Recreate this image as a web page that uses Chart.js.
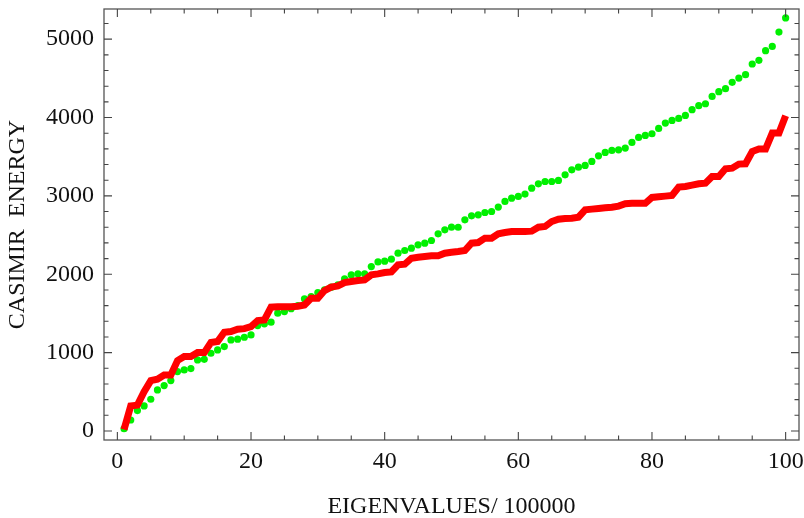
<!DOCTYPE html>
<html>
<head>
<meta charset="utf-8">
<script src="https://cdn.jsdelivr.net/npm/chart.js@4.4.1/dist/chart.umd.min.js"></script>
<style>
  html, body { margin: 0; padding: 0; background: #fff; }
  #chart { display: block; }
</style>
</head>
<body>
<canvas id="chart" width="804" height="518"></canvas>
<script>
// eigenvalue index 1..100
const eigenIndex = Array.from({ length: 100 }, (_, i) => i + 1);

// green dotted series
const greenValues = [
  30, 140, 260, 320, 405, 524, 579, 643, 758, 779,
  796, 907, 915, 992, 1034, 1077, 1162, 1171, 1196, 1226,
  1345, 1367, 1388, 1503, 1524, 1560, 1600, 1686, 1715, 1767,
  1801, 1835, 1865, 1941, 1992, 2005, 2005, 2098, 2158, 2167,
  2193, 2269, 2303, 2333, 2375, 2397, 2431, 2516, 2567, 2601,
  2600, 2695, 2746, 2758, 2788, 2801, 2857, 2929, 2971, 2993,
  3023, 3099, 3154, 3184, 3184, 3197, 3269, 3333, 3367, 3389,
  3440, 3512, 3555, 3580, 3588, 3610, 3682, 3746, 3772, 3793,
  3861, 3929, 3963, 3989, 4027, 4100, 4151, 4176, 4270, 4330,
  4368, 4449, 4504, 4547, 4683, 4730, 4853, 4908, 5090, 5271,
];

// red thick line series
const redValues = [
  20, 319, 330, 502, 643, 660, 715, 715, 898, 949,
  949, 1000, 1000, 1128, 1141, 1260, 1269, 1298, 1306, 1332,
  1409, 1417, 1580, 1585, 1585, 1585, 1592, 1609, 1694, 1694,
  1792, 1835, 1852, 1894, 1907, 1920, 1928, 1992, 2005, 2022,
  2030, 2120, 2128, 2205, 2218, 2226, 2235, 2235, 2269, 2280,
  2290, 2303, 2397, 2405, 2461, 2461, 2516, 2533, 2546, 2546,
  2546, 2550, 2601, 2610, 2673, 2703, 2712, 2716, 2729, 2822,
  2831, 2840, 2848, 2856, 2870, 2900, 2905, 2905, 2905, 2980,
  2988, 2997, 3005, 3112, 3120, 3137, 3154, 3163, 3248, 3248,
  3346, 3354, 3406, 3410, 3567, 3598, 3598, 3802, 3802, 4023,
];

const xMajorTicks = [0, 20, 40, 60, 80, 100];
const yMajorTicks = [0, 1000, 2000, 3000, 4000, 5000];

const serif = "'Liberation Serif', 'DejaVu Serif', serif";
Chart.defaults.font.family = serif;
Chart.defaults.font.size = 24;
Chart.defaults.color = "#111";

// mathematica-like frame with inward ticks on all four sides
const framePlugin = {
  id: "frame",
  afterDraw(chart) {
    const { ctx, chartArea: { left, right, top, bottom }, scales: { x, y } } = chart;
    ctx.save();
    ctx.strokeStyle = "#555";
    ctx.lineWidth = 1.3;
    ctx.strokeRect(left, top, right - left, bottom - top);

    ctx.lineWidth = 1.1;
    ctx.strokeStyle = "#444";
    ctx.beginPath();
    for (let v = 0; v <= 100; v += 5) {
      const px = x.getPixelForValue(v);
      const len = v % 20 === 0 ? 8 : 4.5;
      ctx.moveTo(px, bottom);
      ctx.lineTo(px, bottom - len);
      ctx.moveTo(px, top);
      ctx.lineTo(px, top + len);
    }
    for (let v = 0; v <= 5200; v += 200) {
      const py = y.getPixelForValue(v);
      if (py < top) continue;
      const len = v % 1000 === 0 ? 8 : 4.5;
      ctx.moveTo(left, py);
      ctx.lineTo(left + len, py);
      ctx.moveTo(right, py);
      ctx.lineTo(right - len, py);
    }
    ctx.stroke();
    ctx.restore();
  },
};

const ctx = document.getElementById("chart").getContext("2d");
const chart = new Chart(ctx, {
  type: "line",
  data: {
    labels: eigenIndex,
    datasets: [
      {
        label: "red",
        data: eigenIndex.map((v, i) => ({ x: v, y: redValues[i] })),
        borderColor: "#ff0000",
        backgroundColor: "#ff0000",
        borderWidth: 7,
        borderJoinStyle: "miter",
        borderCapStyle: "butt",
        pointRadius: 0,
        tension: 0,
        order: 0,
      },
      {
        label: "green",
        data: eigenIndex.map((v, i) => ({ x: v, y: greenValues[i] })),
        showLine: false,
        pointRadius: 3.6,
        pointBorderWidth: 0,
        pointBackgroundColor: "#00f000",
        backgroundColor: "#00f000",
        order: 1,
      },
    ],
  },
  plugins: [framePlugin],
  options: {
    responsive: false,
    animation: false,
    devicePixelRatio: 1,
    layout: { padding: { top: 9, right: 5, left: 0, bottom: 0 } },
    plugins: {
      legend: { display: false },
      tooltip: { enabled: false },
    },
    scales: {
      x: {
        type: "linear",
        min: -2,
        max: 102,
        afterFit: (scale) => {
          scale.height = 78;
          scale.paddingLeft = 0;
          scale.paddingRight = 0;
        },
        grid: { display: false, drawTicks: false },
        border: { display: false },
        ticks: {
          stepSize: 20,
          includeBounds: false,
          autoSkip: false,
          maxRotation: 0,
          padding: 7,
          color: "#111",
          font: { family: serif, size: 24 },
          callback: (v) => String(v),
        },
        afterBuildTicks: (scale) => {
          scale.ticks = xMajorTicks.map((v) => ({ value: v }));
        },
        title: {
          display: true,
          text: "EIGENVALUES/ 100000",
          color: "#111",
          font: { family: serif, size: 24 },
          padding: { top: 0, bottom: -3 },
        },
      },
      y: {
        type: "linear",
        min: -115,
        max: 5385,
        afterFit: (scale) => {
          scale.width = 104;
          scale.paddingTop = 0;
          scale.paddingBottom = 0;
        },
        grid: { display: false, drawTicks: false },
        border: { display: false },
        ticks: {
          stepSize: 1000,
          includeBounds: false,
          padding: 10,
          color: "#111",
          font: { family: serif, size: 24 },
          callback: (v) => String(v),
        },
        afterBuildTicks: (scale) => {
          scale.ticks = yMajorTicks.map((v) => ({ value: v }));
        },
        title: {
          display: true,
          text: "CASIMIR  ENERGY",
          color: "#111",
          font: { family: serif, size: 24 },
          padding: { top: 3, bottom: 0 },
        },
      },
    },
  },
});
</script>
</body>
</html>
